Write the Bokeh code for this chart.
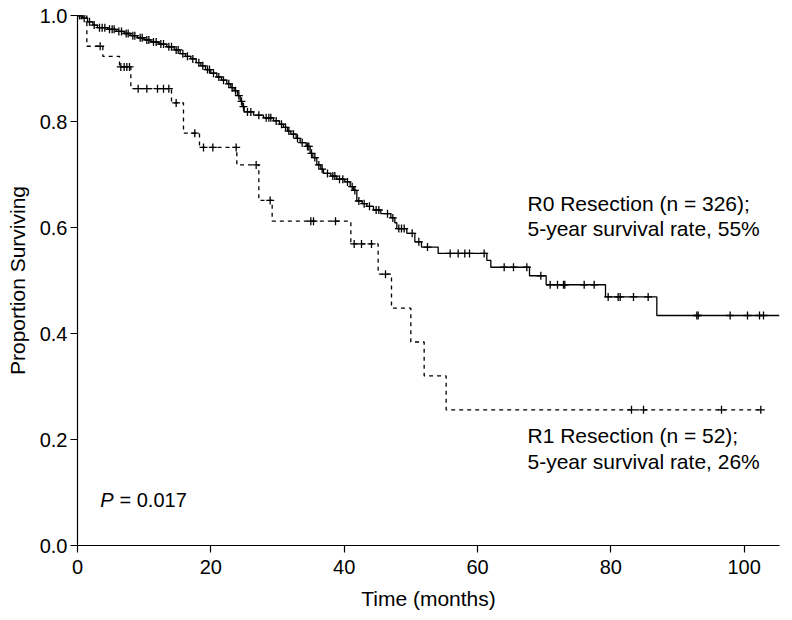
import numpy as np
from bokeh.plotting import figure
from bokeh.models import Label, FixedTicker, NumeralTickFormatter
from bokeh.embed import file_html
from bokeh.resources import INLINE

# ---------------- data ----------------
# R0 resection: event times (months) and survival after each event
r0_times = [0, 0.8, 1.5, 2.3, 3.0, 4.5, 5.8, 7.0, 8.0, 9.0, 10.0, 11.0, 12.2, 13.4,
            14.5, 15.4, 16.2, 17.0, 17.8, 18.5, 19.2, 20.0, 20.9, 21.6, 22.4, 23.0,
            23.5, 24.0, 24.4, 24.7, 25.0, 26.4, 27.9, 29.4, 30.3, 30.9, 31.5, 32.0,
            32.8, 33.4, 34.3, 34.9, 35.3, 35.9, 36.5, 36.9, 38.0, 38.9, 40.1, 40.9,
            41.4, 41.9, 42.7, 43.4, 44.4, 45.5, 47.0, 47.6, 47.9, 49.4, 50.6, 51.6,
            54.1, 61.4, 62.0, 67.8, 70.3, 79.2, 86.9, 105.3]
r0_surv = [1.0, 0.995, 0.988, 0.982, 0.977, 0.974, 0.970, 0.966, 0.962, 0.958, 0.954,
           0.950, 0.946, 0.941, 0.935, 0.928, 0.923, 0.918, 0.911, 0.905, 0.898, 0.891,
           0.884, 0.878, 0.871, 0.864, 0.858, 0.849, 0.838, 0.828, 0.818, 0.812, 0.807,
           0.801, 0.795, 0.789, 0.782, 0.776, 0.768, 0.760, 0.753, 0.740, 0.732, 0.718,
           0.710, 0.702, 0.697, 0.691, 0.686, 0.677, 0.670, 0.650, 0.645, 0.640, 0.633,
           0.626, 0.618, 0.609, 0.598, 0.589, 0.573, 0.563, 0.551, 0.538, 0.525, 0.509,
           0.492, 0.469, 0.434, 0.434]
r0_censor = [0.3, 0.6, 1.0, 1.8, 2.5, 3.3, 3.7, 4.1, 4.8, 5.2, 5.5, 6.2, 6.6, 7.3, 7.6,
             8.3, 8.6, 9.4, 9.7, 10.4, 10.7, 11.4, 11.8, 12.5, 12.9, 13.7, 14.1, 14.8,
             15.1, 15.8, 16.5, 17.3, 18.2, 18.8, 19.5, 19.8, 20.4, 21.2, 21.9, 22.7,
             23.2, 23.7, 24.2, 24.6, 24.9, 25.5, 26.0, 27.2, 28.3, 28.7, 29.0, 29.8,
             30.6, 31.2, 31.7, 32.4, 33.0, 33.7, 34.5, 34.7, 35.1, 35.6, 36.2, 36.7,
             37.5, 38.3, 38.6, 39.3, 39.8, 40.5, 41.2, 41.6, 42.2, 43.0, 43.8, 44.8,
             45.2, 46.5, 47.3, 48.2, 48.6, 49.0, 50.2, 51.2, 52.5, 55.9, 57.1, 58.1,
             58.8, 61.0, 64.0, 65.4, 67.4, 69.5, 70.9, 72.0, 72.9, 73.1, 76.0, 77.5,
             79.6, 81.1, 81.4, 83.4, 85.6, 92.9, 93.1, 97.9, 100.5, 102.3, 102.9]

# R1 resection
r1_times = [0, 1.4, 3.8, 6.3, 8.0, 14.1, 15.9, 18.3, 23.9, 27.2, 29.2, 41.0, 45.1,
            47.1, 50.0, 52.0, 55.3, 102.5]
r1_surv = [1.0, 0.942, 0.923, 0.903, 0.862, 0.835, 0.778, 0.751, 0.718, 0.651, 0.612,
           0.569, 0.512, 0.448, 0.384, 0.320, 0.256, 0.256]
r1_censor = [3.4, 6.5, 7.0, 7.4, 7.8, 9.1, 10.4, 12.0, 12.9, 13.7, 14.8, 17.6, 18.9,
             20.3, 23.8, 26.8, 28.9, 35.0, 35.4, 38.7, 41.5, 42.6, 44.1, 46.2, 83.1,
             84.9, 96.6, 102.5]

x_ticks = [0, 20, 40, 60, 80, 100]
y_ticks = [0.0, 0.2, 0.4, 0.6, 0.8, 1.0]

r0_text = ["R0 Resection (n = 326);", "5-year survival rate, 55%"]
r1_text = ["R1 Resection (n = 52);", "5-year survival rate, 26%"]
p_value = "= 0.017"


def step_value(times, surv, t):
    idx = np.searchsorted(np.asarray(times), np.asarray(t), side="right") - 1
    return np.asarray(surv)[idx]


FONT = "Liberation Sans"
BLACK = "#000000"

p = figure(width=784, height=612, output_backend="svg", toolbar_location=None,
           x_range=(0, 105.3), y_range=(0, 1.0),
           min_border_left=77, min_border_right=5, min_border_top=15,
           min_border_bottom=67)
p.outline_line_color = None
p.xgrid.visible = False
p.ygrid.visible = False
p.background_fill_color = "white"

# curves
p.step(r0_times, r0_surv, mode="after", line_color=BLACK, line_width=1.3)
p.step(r1_times, r1_surv, mode="after", line_color=BLACK, line_width=1.3,
       line_dash="4 4")

p.scatter(r0_censor, step_value(r0_times, r0_surv, r0_censor), marker="cross",
          size=8, line_color=BLACK, line_width=1.3)
p.scatter(r1_censor, step_value(r1_times, r1_surv, r1_censor), marker="cross",
          size=8, line_color=BLACK, line_width=1.3)

# axes
for ax in (p.xaxis[0], p.yaxis[0]):
    ax.axis_line_color = BLACK
    ax.axis_line_width = 1.2
    ax.major_tick_line_color = BLACK
    ax.major_tick_line_width = 1.2
    ax.major_tick_out = 7
    ax.major_tick_in = 0
    ax.minor_tick_line_color = None
    ax.major_label_text_font = FONT
    ax.major_label_text_font_size = "20px"
    ax.major_label_text_color = BLACK
    ax.axis_label_text_font = FONT
    ax.axis_label_text_font_size = "21px"
    ax.axis_label_text_font_style = "normal"
    ax.axis_label_text_color = BLACK

p.xaxis.ticker = FixedTicker(ticks=x_ticks)
p.yaxis.ticker = FixedTicker(ticks=y_ticks)
p.yaxis.formatter = NumeralTickFormatter(format="0.0")
p.xaxis.axis_label = "Time (months)"
p.yaxis.axis_label = "Proportion Surviving"
p.xaxis.major_label_standoff = 7
p.yaxis.major_label_standoff = 3
p.xaxis.axis_label_standoff = 10
p.yaxis.axis_label_standoff = 8

# annotations
def add_label(x, y, text, size="21px", style="normal"):
    p.add_layout(Label(x=x, y=y, text=text, text_font=FONT, text_font_size=size,
                       text_font_style=style, text_color=BLACK,
                       text_baseline="alphabetic", text_align="left"))

add_label(67.5, 0.645, r0_text[0])
add_label(67.5, 0.598, r0_text[1])
add_label(67.5, 0.207, r1_text[0])
add_label(67.5, 0.159, r1_text[1])
add_label(3.4, 0.085, "P", size="20px", style="italic")
add_label(6.3, 0.085, p_value, size="20px")

open("out.html", "w").write(file_html(p, INLINE))
